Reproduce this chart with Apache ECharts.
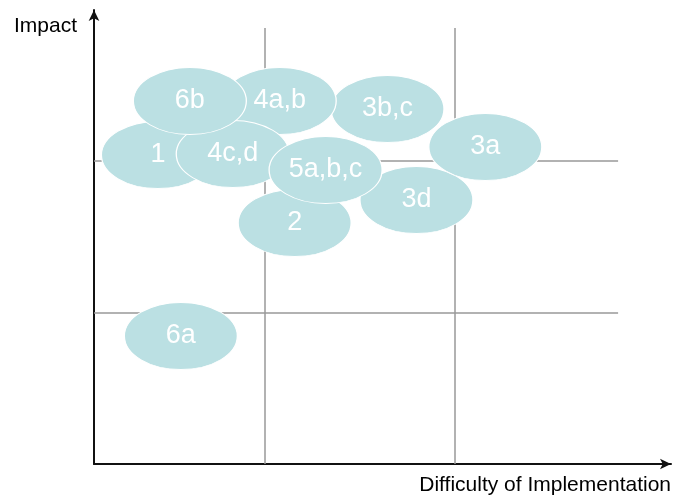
<!DOCTYPE html>
<html>
<head>
<meta charset="utf-8">
<style>
  html, body { margin: 0; padding: 0; background: #ffffff; }
  #chart { width: 674px; height: 498px; }
</style>
<script src="https://cdn.jsdelivr.net/npm/echarts@6/dist/echarts.min.js"></script>
</head>
<body>
<div id="chart"></div>
<script>
// Initiatives placed by difficulty (x) and impact (y); listed in stacking order, back to front
const labels     = ['3d', '3a', '3b,c', '2', '1', '4a,b', '4c,d', '5a,b,c', '6a', '6b'];
const difficulty = [323, 392, 294, 201, 64, 186, 139, 232, 87, 96];
const impact     = [264, 317, 355, 241, 309, 363, 310, 294, 128, 363];

// Axis ranges and quadrant dividers
const difficultyMax = 578;
const impactMax = 454;
const difficultySplits = [171, 361];
const impactSplits = [151, 303];
const dividerTop = 436;
const dividerRight = 525;

const FONT = '"Liberation Sans", Arial, Helvetica, sans-serif';
const bubbleColor = '#bbe0e3';
const ellipse = 'path://M0,50A50,50,0,1,1,100,50A50,50,0,1,1,0,50Z';

const points = labels.map((name, i) => ({ name, value: [difficulty[i], impact[i]] }));

const dividers = [
  ...difficultySplits.map(x => [{ coord: [x, 0] }, { coord: [x, dividerTop] }]),
  ...impactSplits.map(y => [{ coord: [0, y] }, { coord: [dividerRight, y] }])
];

const chart = echarts.init(document.getElementById('chart'), null, { renderer: 'canvas' });
chart.setOption({
  animation: false,
  backgroundColor: '#ffffff',
  grid: { left: 94, right: 2, top: 10, bottom: 34, containLabel: false },
  xAxis: {
    type: 'value', min: 0, max: difficultyMax,
    name: 'Difficulty of Implementation',
    nameLocation: 'end', nameGap: 0,
    nameTextStyle: {
      fontFamily: FONT, fontSize: 21, color: '#000',
      align: 'right', verticalAlign: 'top', padding: [11, 0, 0, 0]
    },
    axisLine: { show: true, symbol: ['none', 'arrow'], symbolSize: [8, 11],
      lineStyle: { color: '#111', width: 2 } },
    axisTick: { show: false }, axisLabel: { show: false }, splitLine: { show: false }
  },
  yAxis: {
    type: 'value', min: 0, max: impactMax,
    name: 'Impact',
    nameLocation: 'end', nameGap: -16,
    nameTextStyle: {
      fontFamily: FONT, fontSize: 21, color: '#000',
      align: 'right', verticalAlign: 'middle', padding: [0, 17, 0, 0]
    },
    axisLine: { show: true, symbol: ['none', 'arrow'], symbolSize: [8, 11],
      lineStyle: { color: '#111', width: 2 } },
    axisTick: { show: false }, axisLabel: { show: false }, splitLine: { show: false }
  },
  series: [
    {
      type: 'line', data: [], z: 1, silent: true,
      markLine: {
        z: 1, silent: true, symbol: ['none', 'none'], label: { show: false },
        lineStyle: { color: '#999999', width: 1.5, type: 'solid' },
        data: dividers
      }
    },
    {
      type: 'scatter', z: 10,
      symbol: ellipse,
      symbolSize: [113, 67],
      itemStyle: { color: bubbleColor, borderColor: '#ffffff', borderWidth: 1, opacity: 1 },
      label: {
        show: true, position: 'inside', formatter: '{b}',
        color: '#ffffff', fontFamily: FONT, fontSize: 27
      },
      emphasis: { disabled: true },
      data: points
    }
  ]
});
</script>
</body>
</html>
